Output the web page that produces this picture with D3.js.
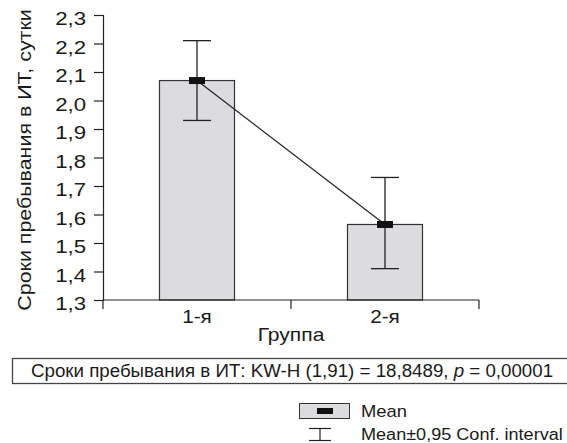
<!DOCTYPE html>
<html lang="ru">
<head>
<meta charset="UTF-8">
<title>Сроки пребывания в ИТ</title>
<script src="https://d3js.org/d3.v7.min.js"></script>
<style>
  body { margin: 0; background: #fff; }
  text { font-family: Arial, "Liberation Sans", sans-serif; fill: #1a1a1a; }
</style>
</head>
<body>
<script>
// data
const groups = ["1-я", "2-я"];
const means = [2.07, 1.565];
const ciLow = [1.93, 1.41];
const ciHigh = [2.21, 1.73];
const yTicks = [1.3, 1.4, 1.5, 1.6, 1.7, 1.8, 1.9, 2.0, 2.1, 2.2, 2.3];

const W = 567, H = 443;
const svg = d3.select("body").append("svg").attr("width", W).attr("height", H);

// the original font is a bit wider than Arial, so stretch text horizontally
function label(parent, x, y, str, size, sx, anchor, rot) {
  const t = parent.append("text")
    .attr("transform", `translate(${x},${y})` + (rot ? ` rotate(${rot})` : "") + ` scale(${sx},1)`)
    .attr("text-anchor", anchor || "start")
    .style("font-size", size + "px");
  if (str) t.text(str);
  return t;
}

const x = d3.scaleBand().domain(groups).range([103, 479]);
const y = d3.scaleLinear().domain([1.3, 2.3]).range([300, 15]);
const fmt = v => d3.format(".1f")(v).replace(".", ",");

// y axis
const yAxis = svg.append("g").attr("transform", "translate(103,0)")
  .call(d3.axisLeft(y).tickValues(yTicks).tickFormat(fmt).tickSize(9));
yAxis.selectAll("text")
  .attr("x", 0).attr("dy", "0.53em")
  .attr("transform", "translate(-17,0) scale(1.2,1)")
  .style("font-size", "18.5px").attr("fill", "#1a1a1a");
yAxis.select(".domain").attr("stroke", "#222").attr("stroke-width", 1.2);
yAxis.selectAll(".tick line").attr("stroke", "#222").attr("stroke-width", 1.2);

label(svg, 31, 160, "Сроки пребывания в ИТ, сутки", 18, 1.19, "middle", -90);

// bars
const bw = 75;
const cx = g => x(g) + x.bandwidth() / 2;
svg.selectAll(".bar").data(groups).enter().append("rect")
  .attr("x", g => cx(g) - bw / 2)
  .attr("width", bw)
  .attr("y", (g, i) => y(means[i]))
  .attr("height", (g, i) => y(1.3) - y(means[i]))
  .attr("fill", "#dcdcde")
  .attr("stroke", "#333")
  .attr("stroke-width", 1.2);

// x axis
svg.append("line").attr("x1", 103).attr("x2", 479).attr("y1", 300).attr("y2", 300)
  .attr("stroke", "#222").attr("stroke-width", 1.2);
const xTickPos = [103, x("2-я"), 479];
svg.selectAll(".xt").data(xTickPos).enter().append("line")
  .attr("x1", d => d).attr("x2", d => d).attr("y1", 300).attr("y2", 309)
  .attr("stroke", "#222").attr("stroke-width", 1.2);
groups.forEach(g => label(svg, cx(g), 323, g, 18, 1.15, "middle"));
label(svg, 291, 341, "Группа", 18, 1.17, "middle");

// error bars
const cap = 14;
groups.forEach((g, i) => {
  const c = cx(g);
  const e = svg.append("g").attr("stroke", "#222").attr("stroke-width", 1.3);
  e.append("line").attr("x1", c).attr("x2", c).attr("y1", y(ciHigh[i])).attr("y2", y(ciLow[i]));
  e.append("line").attr("x1", c - cap).attr("x2", c + cap).attr("y1", y(ciHigh[i])).attr("y2", y(ciHigh[i]));
  e.append("line").attr("x1", c - cap).attr("x2", c + cap).attr("y1", y(ciLow[i])).attr("y2", y(ciLow[i]));
});

// mean line
svg.append("path")
  .datum(groups.map((g, i) => [cx(g), y(means[i])]))
  .attr("d", d3.line())
  .attr("fill", "none").attr("stroke", "#222").attr("stroke-width", 1.2);

svg.selectAll(".mean").data(groups).enter().append("rect")
  .attr("x", g => cx(g) - 8).attr("y", (g, i) => y(means[i]) - 3.5)
  .attr("width", 16).attr("height", 7)
  .attr("fill", "#111");

// stats box
svg.append("rect").attr("x", 12.5).attr("y", 358.5).attr("width", 560).attr("height", 25)
  .attr("fill", "none").attr("stroke", "#444").attr("stroke-width", 1.3);
const st = label(svg, 31, 377, null, 17.5, 1.07);
st.append("tspan").text("Сроки пребывания в ИТ: KW-H (1,91) = 18,8489, ");
st.append("tspan").style("font-style", "italic").text("p");
st.append("tspan").text(" = 0,00001");

// legend
svg.append("rect").attr("x", 299.5).attr("y", 403.5).attr("width", 50).attr("height", 15)
  .attr("fill", "#dcdcde").attr("stroke", "#333");
svg.append("rect").attr("x", 317).attr("y", 408).attr("width", 16).attr("height", 6).attr("fill", "#111");
label(svg, 361, 417, "Mean", 16, 1.15);
const lg = svg.append("g").attr("stroke", "#222").attr("stroke-width", 1.2);
lg.append("line").attr("x1", 309).attr("x2", 331).attr("y1", 428.5).attr("y2", 428.5);
lg.append("line").attr("x1", 309).attr("x2", 331).attr("y1", 440.5).attr("y2", 440.5);
lg.append("line").attr("x1", 320).attr("x2", 320).attr("y1", 428.5).attr("y2", 440.5);
label(svg, 361, 440, "Mean±0,95 Conf. interval", 16, 1.13);
</script>
</body>
</html>
